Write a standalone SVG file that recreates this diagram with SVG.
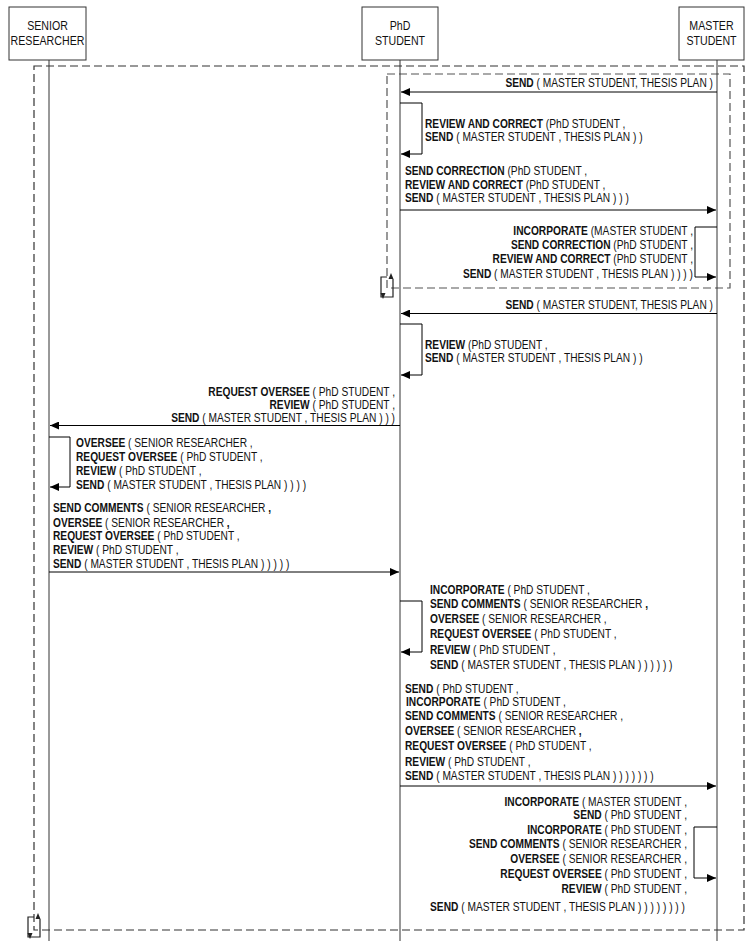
<svg xmlns="http://www.w3.org/2000/svg" width="749" height="941" viewBox="0 0 749 941">
<style>
text{font-family:"Liberation Sans",Arial,sans-serif;font-size:12px;fill:#111}
.b{font-weight:bold}
.hd{font-size:12.5px}
.box{fill:#fff;stroke:#333;stroke-width:1}
.life{stroke:#333;stroke-width:1}
.msg{stroke:#000;stroke-width:1;fill:none}
.frame{fill:none;stroke:#333;stroke-width:1.2;stroke-dasharray:8 4}
.inner{fill:none;stroke:#555;stroke-width:1.2;stroke-dasharray:8 4}
.ic{fill:none;stroke:#222;stroke-width:1.2}
.e{text-anchor:end}
.m{text-anchor:middle}
</style>
<defs>
<marker id="ah" markerWidth="10" markerHeight="8" refX="9" refY="4" orient="auto" markerUnits="userSpaceOnUse">
<path d="M0,0 L9,4 L0,8 Z" fill="#000"/>
</marker>
</defs>
<rect width="749" height="941" fill="#fff"/>

<g id="frames">
<rect class="frame" x="34" y="66" width="710" height="864"/>
<rect class="inner" x="387" y="74" width="343" height="214"/>
</g>

<g id="senior">
<rect class="box" x="9" y="7" width="77" height="53"/>
<text class="hd m" transform="translate(47.5,30) scale(.85,1)">SENIOR</text>
<text class="hd m" transform="translate(47.5,45) scale(.85,1)">RESEARCHER</text>
<line class="life" x1="49" y1="60" x2="49" y2="941"/>
</g>
<g id="phd">
<rect class="box" x="362" y="7" width="76" height="53"/>
<text class="hd m" transform="translate(400,30) scale(.85,1)">PhD</text>
<text class="hd m" transform="translate(400,45) scale(.85,1)">STUDENT</text>
<line class="life" x1="400" y1="60" x2="400" y2="941"/>
</g>
<g id="master">
<rect class="box" x="679" y="7" width="65" height="53"/>
<text class="hd m" transform="translate(711.5,30) scale(.85,1)">MASTER</text>
<text class="hd m" transform="translate(711.5,45) scale(.85,1)">STUDENT</text>
<line class="life" x1="717" y1="60" x2="717" y2="941"/>
</g>

<g id="loop-markers">
<path class="ic" d="M387,277 H381 V297 H393 V279"/>
<path d="M391,273 L388.5,279 L393.5,279 Z" fill="#222"/>
<path d="M383,299 L380.5,293 L385.5,293 Z" fill="#222"/>
<path class="ic" d="M34,917 H28 V937 H40 V919"/>
<path d="M38,913 L35.5,919 L40.5,919 Z" fill="#222"/>
<path d="M30,939 L27.5,933 L32.5,933 Z" fill="#222"/>
</g>

<g id="connectors">
<line class="msg" x1="717" y1="92" x2="401" y2="92" marker-end="url(#ah)"/>
<polyline class="msg" points="400,103 422,103 422,154 401,154" marker-end="url(#ah)"/>
<line class="msg" x1="400" y1="210" x2="716" y2="210" marker-end="url(#ah)"/>
<polyline class="msg" points="717,227 695,227 695,277 716,277" marker-end="url(#ah)"/>
<line class="msg" x1="717" y1="313.5" x2="401" y2="313.5" marker-end="url(#ah)"/>
<polyline class="msg" points="400,324 422,324 422,375 401,375" marker-end="url(#ah)"/>
<line class="msg" x1="400" y1="425.5" x2="50" y2="425.5" marker-end="url(#ah)"/>
<polyline class="msg" points="49,437 70,437 70,487 50,487" marker-end="url(#ah)"/>
<line class="msg" x1="49" y1="572" x2="399" y2="572" marker-end="url(#ah)"/>
<polyline class="msg" points="400,601 422,601 422,652 401,652" marker-end="url(#ah)"/>
<line class="msg" x1="400" y1="786" x2="716" y2="786" marker-end="url(#ah)"/>
<polyline class="msg" points="717,827 694,827 694,878 716,878" marker-end="url(#ah)"/>
</g>

<g id="labels">
<text class="e" transform="translate(713,87) scale(.85,1)"><tspan class="b">SEND</tspan> ( MASTER STUDENT, THESIS PLAN )</text>

<text transform="translate(425,127.6) scale(.85,1)"><tspan class="b">REVIEW AND CORRECT</tspan> (PhD STUDENT ,</text>
<text transform="translate(425,141) scale(.85,1)"><tspan class="b">SEND</tspan> ( MASTER STUDENT , THESIS PLAN ) )</text>

<text transform="translate(405,175) scale(.85,1)"><tspan class="b">SEND CORRECTION</tspan> (PhD STUDENT ,</text>
<text transform="translate(405,189) scale(.85,1)"><tspan class="b">REVIEW AND CORRECT</tspan> (PhD STUDENT ,</text>
<text transform="translate(405,202) scale(.85,1)"><tspan class="b">SEND</tspan> ( MASTER STUDENT , THESIS PLAN ) ) )</text>

<text class="e" transform="translate(693,234.5) scale(.85,1)"><tspan class="b">INCORPORATE</tspan> (MASTER STUDENT ,</text>
<text class="e" transform="translate(693,248.8) scale(.85,1)"><tspan class="b">SEND CORRECTION</tspan> (PhD STUDENT ,</text>
<text class="e" transform="translate(693,263) scale(.85,1)"><tspan class="b">REVIEW AND CORRECT</tspan> (PhD STUDENT ,</text>
<text class="e" transform="translate(693,277.5) scale(.85,1)"><tspan class="b">SEND</tspan> ( MASTER STUDENT , THESIS PLAN ) ) ) )</text>

<text class="e" transform="translate(713,308.6) scale(.85,1)"><tspan class="b">SEND</tspan> ( MASTER STUDENT, THESIS PLAN )</text>

<text transform="translate(425,348.6) scale(.85,1)"><tspan class="b">REVIEW</tspan> (PhD STUDENT ,</text>
<text transform="translate(425,362) scale(.85,1)"><tspan class="b">SEND</tspan> ( MASTER STUDENT , THESIS PLAN ) )</text>

<text class="e" transform="translate(395,395.8) scale(.85,1)"><tspan class="b">REQUEST OVERSEE</tspan> ( PhD STUDENT ,</text>
<text class="e" transform="translate(395,408.8) scale(.85,1)"><tspan class="b">REVIEW</tspan> ( PhD STUDENT ,</text>
<text class="e" transform="translate(395,421.8) scale(.85,1)"><tspan class="b">SEND</tspan> ( MASTER STUDENT , THESIS PLAN ) ) )</text>

<text transform="translate(76,447) scale(.85,1)"><tspan class="b">OVERSEE</tspan> ( SENIOR RESEARCHER ,</text>
<text transform="translate(76,461) scale(.85,1)"><tspan class="b">REQUEST OVERSEE</tspan> ( PhD STUDENT ,</text>
<text transform="translate(76,475) scale(.85,1)"><tspan class="b">REVIEW</tspan> ( PhD STUDENT ,</text>
<text transform="translate(76,488.6) scale(.85,1)"><tspan class="b">SEND</tspan> ( MASTER STUDENT , THESIS PLAN ) ) ) )</text>

<text transform="translate(53,512) scale(.85,1)"><tspan class="b">SEND COMMENTS</tspan> ( SENIOR RESEARCHER <tspan class="b">,</tspan></text>
<text transform="translate(53,526.5) scale(.85,1)"><tspan class="b">OVERSEE</tspan> ( SENIOR RESEARCHER <tspan class="b">,</tspan></text>
<text transform="translate(53,540.3) scale(.85,1)"><tspan class="b">REQUEST OVERSEE</tspan> ( PhD STUDENT ,</text>
<text transform="translate(53,554.3) scale(.85,1)"><tspan class="b">REVIEW</tspan> ( PhD STUDENT ,</text>
<text transform="translate(53,567.6) scale(.85,1)"><tspan class="b">SEND</tspan> ( MASTER STUDENT , THESIS PLAN ) ) ) ) )</text>

<text transform="translate(430,593.6) scale(.85,1)"><tspan class="b">INCORPORATE</tspan> ( PhD STUDENT ,</text>
<text transform="translate(430,607.6) scale(.85,1)"><tspan class="b">SEND COMMENTS</tspan> ( SENIOR RESEARCHER <tspan class="b">,</tspan></text>
<text transform="translate(430,622.6) scale(.85,1)"><tspan class="b">OVERSEE</tspan> ( SENIOR RESEARCHER ,</text>
<text transform="translate(430,637.6) scale(.85,1)"><tspan class="b">REQUEST OVERSEE</tspan> ( PhD STUDENT ,</text>
<text transform="translate(430,653.6) scale(.85,1)"><tspan class="b">REVIEW</tspan> ( PhD STUDENT ,</text>
<text transform="translate(430,669.3) scale(.85,1)"><tspan class="b">SEND</tspan> ( MASTER STUDENT , THESIS PLAN ) ) ) ) ) )</text>

<text transform="translate(405,692.6) scale(.85,1)"><tspan class="b">SEND</tspan> ( PhD STUDENT ,</text>
<text transform="translate(406,706) scale(.85,1)"><tspan class="b">INCORPORATE</tspan> ( PhD STUDENT ,</text>
<text transform="translate(405,720) scale(.85,1)"><tspan class="b">SEND COMMENTS</tspan> ( SENIOR RESEARCHER ,</text>
<text transform="translate(405,735) scale(.85,1)"><tspan class="b">OVERSEE</tspan> ( SENIOR RESEARCHER <tspan class="b">,</tspan></text>
<text transform="translate(405,750) scale(.85,1)"><tspan class="b">REQUEST OVERSEE</tspan> ( PhD STUDENT ,</text>
<text transform="translate(405,766) scale(.85,1)"><tspan class="b">REVIEW</tspan> ( PhD STUDENT ,</text>
<text transform="translate(405,780.3) scale(.85,1)"><tspan class="b">SEND</tspan> ( MASTER STUDENT , THESIS PLAN ) ) ) ) ) ) )</text>

<text class="e" transform="translate(687,806) scale(.85,1)"><tspan class="b">INCORPORATE</tspan> ( MASTER STUDENT ,</text>
<text class="e" transform="translate(687,819.3) scale(.85,1)"><tspan class="b">SEND</tspan> ( PhD STUDENT ,</text>
<text class="e" transform="translate(687,833.6) scale(.85,1)"><tspan class="b">INCORPORATE</tspan> ( PhD STUDENT ,</text>
<text class="e" transform="translate(687,847.6) scale(.85,1)"><tspan class="b">SEND COMMENTS</tspan> ( SENIOR RESEARCHER ,</text>
<text class="e" transform="translate(687,862.6) scale(.85,1)"><tspan class="b">OVERSEE</tspan> ( SENIOR RESEARCHER ,</text>
<text class="e" transform="translate(687,877.6) scale(.85,1)"><tspan class="b">REQUEST OVERSEE</tspan> ( PhD STUDENT ,</text>
<text class="e" transform="translate(687,892.6) scale(.85,1)"><tspan class="b">REVIEW</tspan> ( PhD STUDENT ,</text>
<text class="e" transform="translate(685,911) scale(.85,1)"><tspan class="b">SEND</tspan> ( MASTER STUDENT , THESIS PLAN ) ) ) ) ) ) ) )</text>
</g>
</svg>
